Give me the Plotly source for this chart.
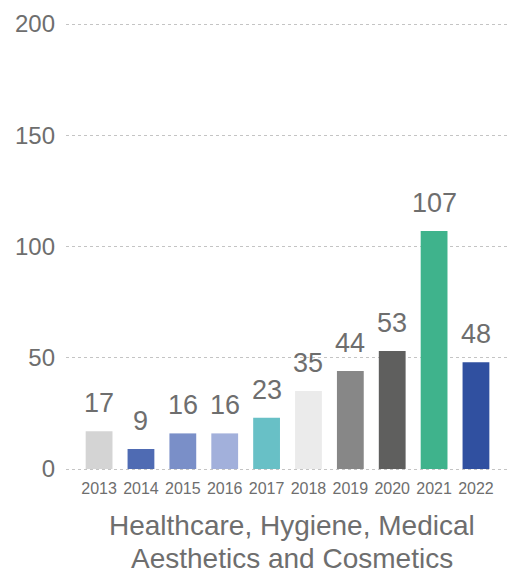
import plotly.graph_objects as go

years = ["2013", "2014", "2015", "2016", "2017", "2018", "2019", "2020", "2021", "2022"]
values = [17, 9, 16, 16, 23, 35, 44, 53, 107, 48]
colors = ["#d4d4d4", "#4f6bb3", "#7a8fc8", "#a2b0db", "#68c0c6",
          "#ebebeb", "#878787", "#5f5f5e", "#3fb38c", "#3050a0"]
y_ticks = [0, 50, 100, 150, 200]
title_lines = ["Healthcare, Hygiene, Medical", "Aesthetics and Cosmetics"]

txt = "#6e6e6e"
font_family = "Liberation Sans, Arial, sans-serif"

fig = go.Figure(go.Bar(
    x=list(range(len(years))), y=values, marker_color=colors, width=0.64,
    marker_line_width=0, hoverinfo="skip",
))

for i, v in enumerate(values):
    fig.add_annotation(x=i, y=v, text=str(v), showarrow=False,
                       yanchor="bottom", yshift=11,
                       font=dict(size=27, color=txt, family=font_family))

for k, line in enumerate(title_lines):
    fig.add_annotation(x=0.5, xref="paper", y=[-0.1197, -0.1907][k], yref="paper",
                       text=line, showarrow=False, xanchor="center", yanchor="middle",
                       borderpad=0,
                       font=dict(size=28, color=txt, family=font_family))

# page body has an 8px default margin, so the figure is 8px smaller on each side
fig.update_layout(
    width=509, height=566,
    margin=dict(l=58, r=0, t=13, b=102),
    plot_bgcolor="white", paper_bgcolor="white",
    showlegend=False,
    font=dict(family=font_family, color=txt),
    xaxis=dict(
        range=[-0.79, 9.98], automargin=False,
        tickvals=list(range(len(years))), ticktext=years,
        showgrid=False, showline=False, zeroline=False,
        ticks="", tickfont=dict(size=16, color=txt),
        ticklabelstandoff=5,
    ),
    yaxis=dict(
        range=[-1.35, 201.35], tickvals=y_ticks, automargin=False,
        showgrid=True, gridcolor="#c4c4c4", gridwidth=1, griddash="dot",
        zeroline=False, showline=False, ticks="",
        tickfont=dict(size=24, color=txt),
        ticklabelstandoff=10,
    ),
)

fig.write_html("out.html")
